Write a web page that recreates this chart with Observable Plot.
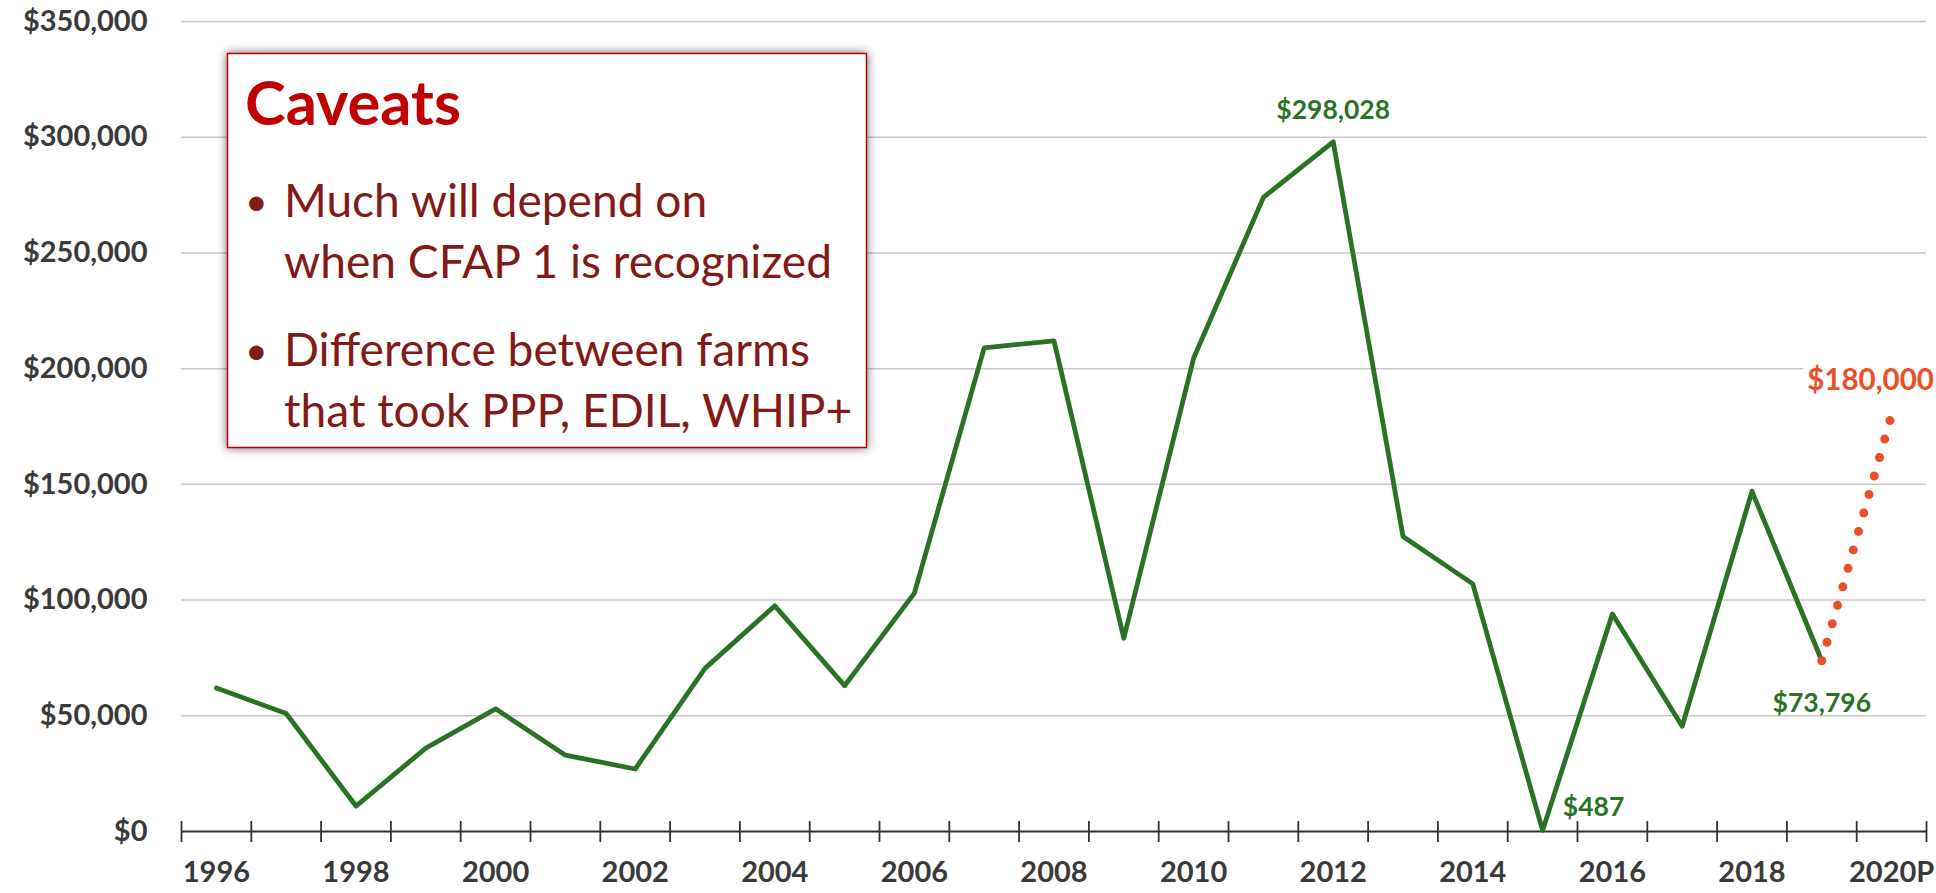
<!DOCTYPE html>
<html>
<head>
<meta charset="utf-8">
<script src="https://cdn.jsdelivr.net/npm/d3@7"></script>
<script src="https://cdn.jsdelivr.net/npm/@observablehq/plot@0.6"></script>
<style>
html, body { margin: 0; padding: 0; background: #fff; }
#wrap { position: relative; width: 1936px; height: 893px; overflow: hidden; }
#wrap > svg { position: absolute; left: 0; top: 0; }
#wrap svg.chart text { font-weight: 700; }
</style>
</head>
<body>
<div id="wrap"></div>
<script>
// ---- data ----
const years = [1996, 1997, 1998, 1999, 2000, 2001, 2002, 2003, 2004, 2005, 2006, 2007,
               2008, 2009, 2010, 2011, 2012, 2013, 2014, 2015, 2016, 2017, 2018, 2019];
const values = [62000, 51000, 11000, 36000, 53000, 33000, 27000, 70500, 97500, 63000, 103000, 209000,
                212000, 83500, 204500, 274000, 298028, 127500, 107000, 487, 94000, 45500, 147000, 73796];
const projYears = [2019, 2020];
const projValues = [73796, 180000];
const tickYears = [1996, 1998, 2000, 2002, 2004, 2006, 2008, 2010, 2012, 2014, 2016, 2018, 2020];
const tickLabels = ["1996", "1998", "2000", "2002", "2004", "2006", "2008", "2010", "2012", "2014", "2016", "2018", "2020P"];
const yTicks = [0, 50000, 100000, 150000, 200000, 250000, 300000, 350000];
const noteTitle = "Caveats";
const noteLines = [
  {bullet: true, text: "Much will depend on"},
  {bullet: false, text: "when CFAP 1 is recognized"},
  {bullet: true, text: "Difference between farms"},
  {bullet: false, text: "that took PPP, EDIL, WHIP+"}
];

// ---- derived tables ----
const data = years.map((y, i) => ({year: y, value: values[i]}));
const proj = projYears.map((y, i) => ({year: y, value: projValues[i]}));
const allYears = years.concat(projYears.slice(1));
const boundaries = allYears.map(y => y - 0.5).concat([allYears[allYears.length - 1] + 0.5]);
const fmt = d => "$" + d3.format(",")(d);

const green = "#2B7226";
const orange = "#EB4F26";
const axisText = "#3a3a3a";

const chart = Plot.plot({
  width: 1936,
  height: 893,
  marginLeft: 181,
  marginRight: 10,
  marginTop: 21,
  marginBottom: 62,
  className: "chart",
  style: {background: "#fff", fontFamily: "Lato, sans-serif", overflow: "visible"},
  x: {type: "linear", domain: [boundaries[0], boundaries[boundaries.length - 1]]},
  y: {domain: [0, 350000]},
  marks: [
    Plot.gridY({ticks: yTicks.slice(1), stroke: "#c8c8c8", strokeOpacity: 1, strokeWidth: 1.5}),
    Plot.ruleY([0], {stroke: "#333", strokeWidth: 1.8}),
    Plot.ruleX(boundaries, {stroke: "#333", strokeWidth: 1.8, insetTop: 800, insetBottom: -11}),
    Plot.axisY({ticks: yTicks, tickSize: 0, tickPadding: 34, tickFormat: fmt, fontSize: 29, fill: axisText, label: null}),
    Plot.axisX({ticks: tickYears, tickSize: 0, tickPadding: 30, tickFormat: d => tickLabels[tickYears.indexOf(d)], fontSize: 29, fill: axisText, label: null}),
    Plot.line(data, {x: "year", y: "value", stroke: green, strokeWidth: 4.8, strokeLinejoin: "round"}),
    Plot.line(proj, {x: "year", y: "value", stroke: orange, strokeWidth: 9, strokeDasharray: "0 19.2", strokeLinecap: "round"}),
    Plot.text(data, {filter: d => d.year === 2012, x: "year", y: "value", text: d => fmt(d.value), dy: -31, fill: green, fontSize: 26.5}),
    Plot.text(data, {filter: d => d.year === 2015, x: "year", y: "value", text: d => fmt(d.value), dx: 51, dy: -23, fill: green, fontSize: 26.5}),
    Plot.text(data, {filter: d => d.year === 2019, x: "year", y: "value", text: d => fmt(d.value), dy: 43, fill: green, fontSize: 26.5}),
    Plot.text(proj, {filter: d => d.year === 2020, x: "year", y: "value", text: d => fmt(d.value), dx: -21, dy: -34, fill: orange, fontSize: 29.5, stroke: "white", strokeWidth: 14, strokeLinejoin: "round"})
  ]
});
const wrap = document.getElementById("wrap");
wrap.appendChild(chart);

// ---- annotation box (overlay) ----
const ns = "http://www.w3.org/2000/svg";
const note = document.createElementNS(ns, "svg");
note.setAttribute("width", 1936);
note.setAttribute("height", 893);
note.setAttribute("style", "pointer-events:none");
note.innerHTML = `
<defs>
  <filter id="sh" x="-10%" y="-10%" width="120%" height="120%">
    <feDropShadow dx="0" dy="0" stdDeviation="5" flood-color="#000" flood-opacity="0.6"/>
  </filter>
</defs>
<rect x="227.5" y="53.5" width="639" height="394" fill="#fff" stroke="#C00000" stroke-width="1.5" filter="url(#sh)"/>
`;
wrap.appendChild(note);

const title = document.createElementNS(ns, "text");
title.setAttribute("x", 245);
title.setAttribute("y", 125);
title.setAttribute("fill", "#C00000");
title.setAttribute("style", "font-family:Lato, sans-serif;font-weight:700;font-size:62px");
title.textContent = noteTitle;
note.appendChild(title);

const baselines = [217, 278, 366, 427];
const bodyEls = [];
const bulletEls = [];
noteLines.forEach((l, i) => {
  if (l.bullet) {
    const b = document.createElementNS(ns, "text");
    b.setAttribute("x", 245);
    b.setAttribute("y", baselines[i] - 2);
    b.setAttribute("fill", "#821A17");
    b.setAttribute("style", "font-family:Lato, sans-serif;font-size:38px");
    b.textContent = "•";
    note.appendChild(b);
    bulletEls.push(b);
  }
  const t = document.createElementNS(ns, "text");
  t.setAttribute("x", 284);
  t.setAttribute("y", baselines[i]);
  t.setAttribute("fill", "#821A17");
  t.setAttribute("style", "font-family:Lato, sans-serif;font-size:46px");
  t.textContent = l.text;
  note.appendChild(t);
  bodyEls.push(t);
});

// calibrate font sizes to the reference text widths
const targets = [434, 543, 537, 552];
let sumT = 0, sumM = 0;
bodyEls.forEach((el, i) => { sumT += targets[i]; sumM += el.getComputedTextLength(); });
const bodySize = 46 * sumT / sumM;
bodyEls.forEach(el => el.style.fontSize = bodySize + "px");
bulletEls.forEach(el => el.style.fontSize = (bodySize * 0.85) + "px");
const tw = title.getComputedTextLength();
title.style.fontSize = (62 * 216 / tw) + "px";
</script>
</body>
</html>
